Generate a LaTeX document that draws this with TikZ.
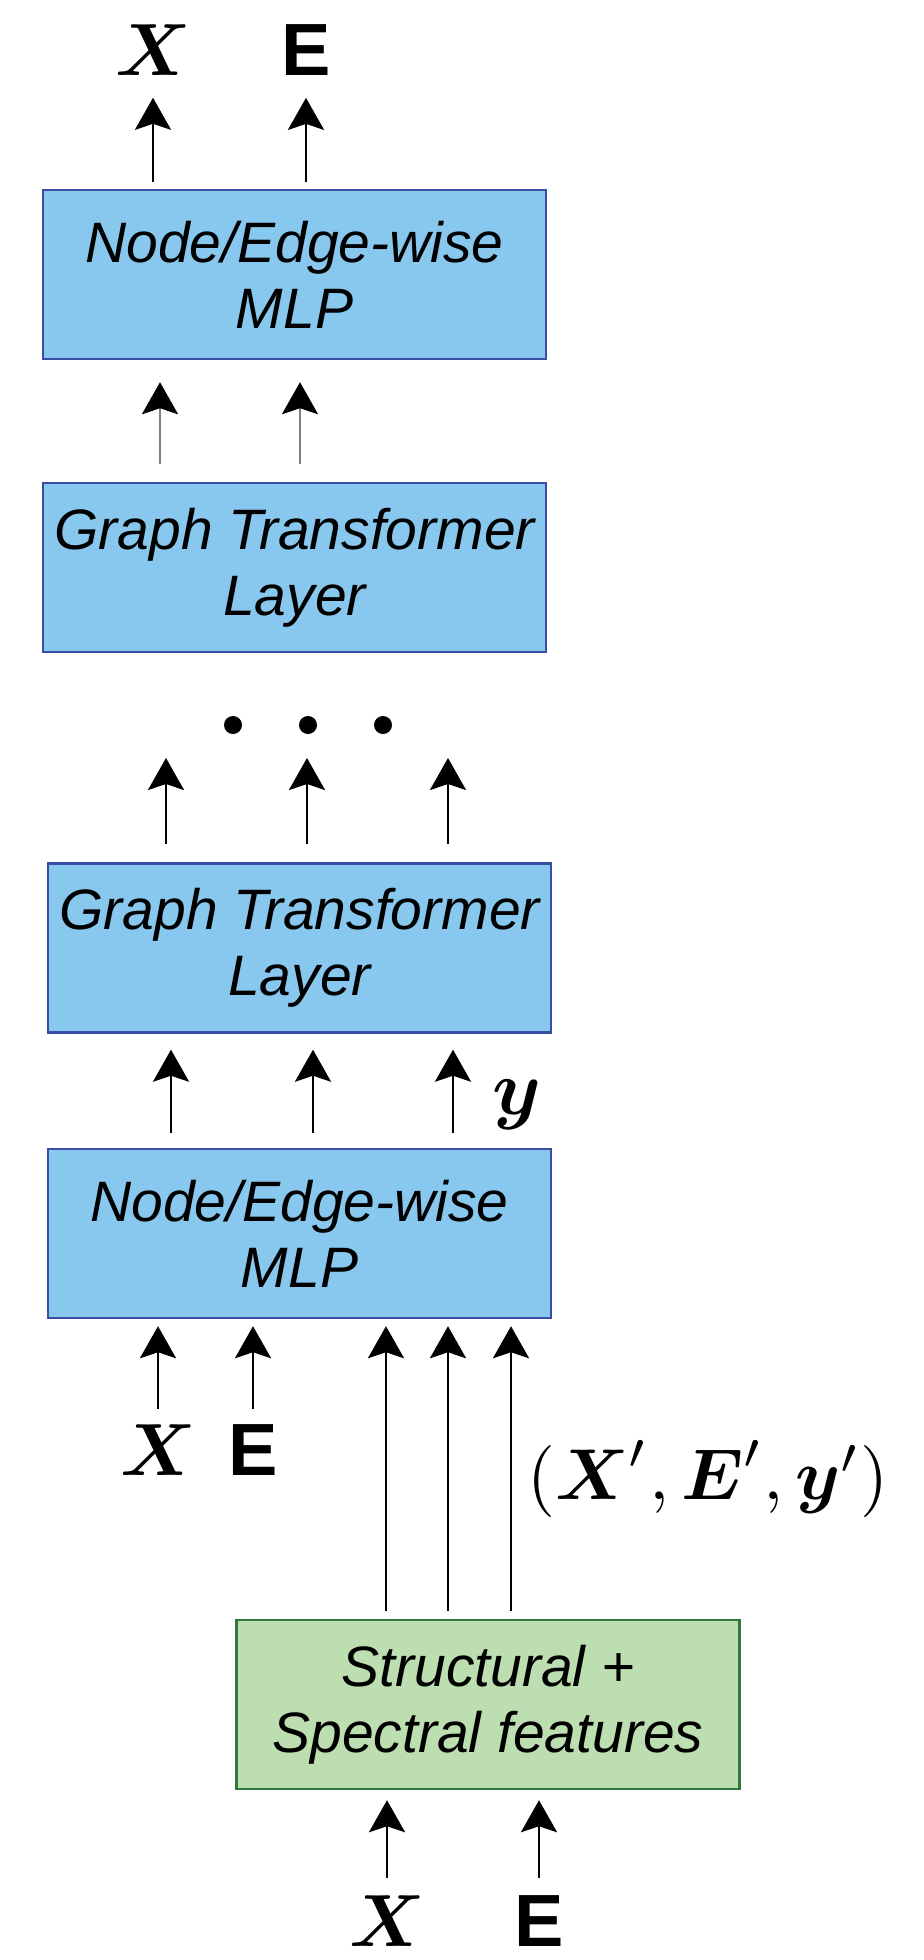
\documentclass[tikz,border=0pt]{standalone}
\usepackage{amsmath}
\usepackage{graphicx}
\usepackage{fontspec}
\newfontfamily\arialf{Liberation Sans}
\usetikzlibrary{arrows.meta}
\definecolor{boxblue}{RGB}{137,200,238}
\definecolor{boxblueline}{RGB}{58,78,165}
\definecolor{boxgreen}{RGB}{189,222,176}
\definecolor{boxgreenline}{RGB}{50,120,60}
\newcommand{\scaledmath}[2]{\scalebox{#1}{$#2$}}
\begin{document}
\begin{tikzpicture}[x=0.5pt,y=-0.5pt,
  blk/.style={draw=boxblueline, fill=boxblue, line width=1.2pt,
    minimum width=251.5pt, minimum height=84.5pt, inner sep=0pt,
    align=center, font=\arialf\itshape\fontsize{28.5}{33}\selectfont},
  gblk/.style={blk, draw=boxgreenline, fill=boxgreen},
  mlbl/.style={inner sep=0pt},
  slbl/.style={inner sep=0pt, font=\arialf\bfseries\fontsize{37}{40}\selectfont},
  arr/.style={-{Stealth[length=16pt,width=18pt,inset=3pt]}, line width=1.4pt},
  arrg/.style={-{Stealth[length=16pt,width=18pt,inset=3pt,color=black]}, line width=1.4pt, draw=black!50}
]
\useasboundingbox (0,0) rectangle (923,1960);

% boxes
\node[blk] (mlpT) at (294.5,274.5) {Node/Edge-wise\\MLP};
\node[blk] (gt1) at (294.5,567.5) {Graph Transformer\\Layer};
\node[blk] (gt2) at (299.5,948) {Graph Transformer\\Layer};
\node[blk] (mlpB) at (299.5,1233.5) {Node/Edge-wise\\MLP};
\node[gblk] (feat) at (488,1704.5) {Structural +\\Spectral features};

% labels
\node[mlbl] (tX) at (153,50) {\scaledmath{3.7}{\boldsymbol{X}}};
\node[slbl] (tE) at (306,50) {E};
\node[mlbl] (mX) at (158,1450) {\scaledmath{3.7}{\boldsymbol{X}}};
\node[slbl] (mE) at (253,1450) {E};
\node[mlbl] (bX) at (387,1921) {\scaledmath{3.7}{\boldsymbol{X}}};
\node[slbl] (bE) at (539,1921) {E};
\node[mlbl] (ylab) at (517,1105) {\scaledmath{3.9}{\boldsymbol{y}}};
\node[mlbl] (feats) at (708,1479)
  {\scaledmath{3.6}{(\boldsymbol{X}',\boldsymbol{E}',\boldsymbol{y}')}};

% column coordinates
\coordinate (a1) at (160,0);
\coordinate (a2) at (300,0);
\coordinate (d1) at (166,758);
\coordinate (d2) at (307,758);
\coordinate (d3) at (448,758);
\coordinate (b1) at (171,0);
\coordinate (b2) at (313,0);
\coordinate (b3) at (453,0);
\coordinate (l1) at (386,0);
\coordinate (l2) at (448,0);
\coordinate (l3) at (511,0);

% top outputs
\draw[arr, shorten <=3.5pt, shorten >=11pt] (mlpT.north -| tX) -- (tX);
\draw[arr, shorten <=3.5pt, shorten >=11pt] (mlpT.north -| tE) -- (tE);

% GT1 -> MLP top
\draw[arrg, shorten <=9pt, shorten >=11pt] (gt1.north -| a1) -- (mlpT.south -| a1);
\draw[arrg, shorten <=9pt, shorten >=11pt] (gt1.north -| a2) -- (mlpT.south -| a2);

% dots
\fill (233,725) circle[radius=4.5pt];
\fill (308,725) circle[radius=4.5pt];
\fill (383,725) circle[radius=4.5pt];

% GT2 -> ...
\draw[arr, shorten <=9pt] (gt2.north -| d1) -- (d1);
\draw[arr, shorten <=9pt] (gt2.north -| d2) -- (d2);
\draw[arr, shorten <=9pt] (gt2.north -| d3) -- (d3);

% MLP bottom -> GT2
\draw[arr, shorten <=7.5pt, shorten >=8pt] (mlpB.north -| b1) -- (gt2.south -| b1);
\draw[arr, shorten <=7.5pt, shorten >=8pt] (mlpB.north -| b2) -- (gt2.south -| b2);
\draw[arr, shorten <=7.5pt, shorten >=8pt] (mlpB.north -| b3) -- (gt2.south -| b3);

% inputs to MLP bottom
\draw[arr, shorten <=7.5pt, shorten >=3.5pt] (mX) -- (mlpB.south -| mX);
\draw[arr, shorten <=7.5pt, shorten >=3.5pt] (mE) -- (mlpB.south -| mE);

% features -> MLP bottom
\draw[arr, shorten <=4pt, shorten >=3.5pt] (feat.north -| l1) -- (mlpB.south -| l1);
\draw[arr, shorten <=4pt, shorten >=3.5pt] (feat.north -| l2) -- (mlpB.south -| l2);
\draw[arr, shorten <=4pt, shorten >=3.5pt] (feat.north -| l3) -- (mlpB.south -| l3);

% inputs to features
\draw[arr, shorten <=8.5pt, shorten >=5pt] (bX) -- (feat.south -| bX);
\draw[arr, shorten <=8.5pt, shorten >=5pt] (bE) -- (feat.south -| bE);
\end{tikzpicture}
\end{document}
